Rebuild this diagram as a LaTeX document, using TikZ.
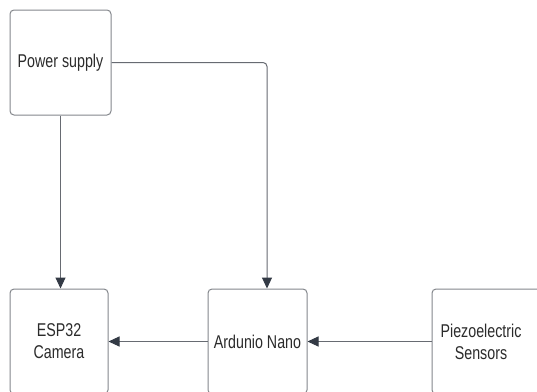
\documentclass[tikz,border=0pt]{standalone}
\usepackage{fontspec}
\setmainfont[FakeStretch=0.77]{Liberation Sans}
\usetikzlibrary{arrows.meta}
\definecolor{boxline}{HTML}{84878C}
\definecolor{wire}{HTML}{676B72}
\definecolor{tipc}{HTML}{333A45}
\definecolor{txt}{HTML}{2B2B2B}
\tikzset{
  blk/.style={draw=boxline, line width=1pt, rounded corners=4pt, fill=white,
    inner sep=0pt, align=center, text=txt, font=\fontsize{18.5}{22}\selectfont},
  wireln/.style={draw=wire, line width=1pt, rounded corners=4pt,
    -{Triangle[length=11pt,width=10pt,color=tipc]}},
}
\begin{document}
\begin{tikzpicture}[x=1pt,y=-1pt]
\fill[white] (0,0) rectangle (537,391);
\useasboundingbox (0,0) rectangle (537,391);
\clip (0,0) rectangle (537,391);
\node[blk, minimum width=101pt, minimum height=105pt] (power) at (60.5,62.5) {Power supply};
\node[blk, minimum width=98pt, minimum height=105pt] (esp) at (59,341.5) {ESP32\\Camera};
\node[blk, minimum width=99pt, minimum height=105pt] (ard) at (257.5,341.5) {Ardunio Nano};
\node[blk, minimum width=110pt, minimum height=105pt, text width=98pt] (piezo) at (487,341.5) {\hspace*{-12pt}Piezoelectric\\\hspace*{-12pt}Sensors};
\draw[wireln] (power.south) -- (power.south |- esp.north);
\draw[wireln] (power.east) -| ([xshift=9.5pt]ard.north);
\draw[wireln] (ard.west) -- (esp.east);
\draw[wireln] (piezo.west) -- (ard.east);
\end{tikzpicture}
\end{document}
